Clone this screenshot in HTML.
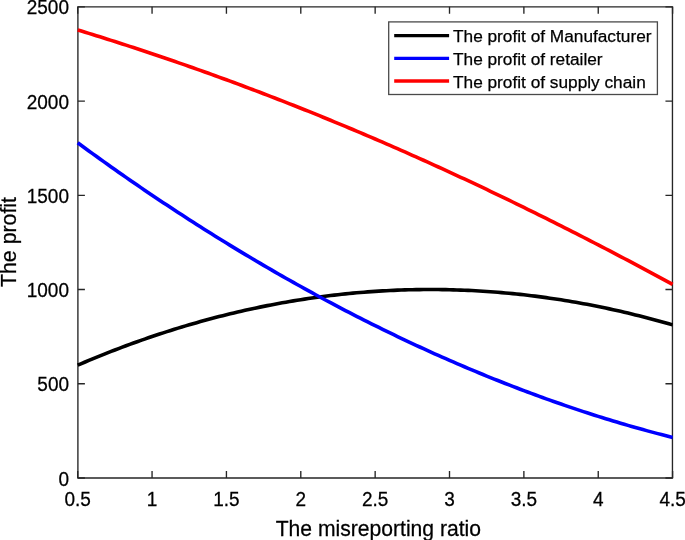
<!DOCTYPE html>
<html><head><meta charset="utf-8"><style>
html,body{margin:0;padding:0;background:#fff;}
svg{display:block;will-change:transform;}
text{font-family:"Liberation Sans",sans-serif;fill:#000;stroke:#000;stroke-width:0.25px;}
</style></head><body>
<svg width="685" height="540" viewBox="0 0 685 540">
<rect width="685" height="540" fill="#fff"/>

<path d="M77.9 6.17V478.68M672.45 6.17V478.68M77.23 6.85H673.12M77.23 478.0H673.12" stroke="#262626" stroke-width="1.35" fill="none"/>
<path d="M77.70 478.0V471.0M77.70 6.85V13.85M152.06 478.0V471.0M152.06 6.85V13.85M226.43 478.0V471.0M226.43 6.85V13.85M300.79 478.0V471.0M300.79 6.85V13.85M375.15 478.0V471.0M375.15 6.85V13.85M449.51 478.0V471.0M449.51 6.85V13.85M523.88 478.0V471.0M523.88 6.85V13.85M598.24 478.0V471.0M598.24 6.85V13.85M672.60 478.0V471.0M672.60 6.85V13.85M77.9 478.00H84.9M672.45 478.00H665.45M77.9 383.77H84.9M672.45 383.77H665.45M77.9 289.54H84.9M672.45 289.54H665.45M77.9 195.31H84.9M672.45 195.31H665.45M77.9 101.08H84.9M672.45 101.08H665.45M77.9 6.85H84.9M672.45 6.85H665.45" stroke="#262626" stroke-width="1.35" fill="none"/>
<polyline points="77.70,365.14 81.42,363.55 85.14,361.97 88.85,360.42 92.57,358.88 96.29,357.35 100.01,355.85 103.73,354.36 107.44,352.89 111.16,351.43 114.88,349.99 118.60,348.57 122.32,347.17 126.04,345.78 129.75,344.41 133.47,343.06 137.19,341.72 140.91,340.40 144.63,339.10 148.34,337.82 152.06,336.55 155.78,335.30 159.50,334.06 163.22,332.84 166.94,331.64 170.65,330.46 174.37,329.29 178.09,328.14 181.81,327.01 185.53,325.90 189.24,324.80 192.96,323.71 196.68,322.65 200.40,321.60 204.12,320.57 207.83,319.56 211.55,318.56 215.27,317.58 218.99,316.61 222.71,315.67 226.43,314.74 230.14,313.82 233.86,312.93 237.58,312.05 241.30,311.19 245.02,310.34 248.73,309.51 252.45,308.70 256.17,307.91 259.89,307.13 263.61,306.37 267.32,305.62 271.04,304.90 274.76,304.19 278.48,303.49 282.20,302.81 285.92,302.15 289.63,301.51 293.35,300.89 297.07,300.28 300.79,299.68 304.51,299.11 308.22,298.55 311.94,298.01 315.66,297.48 319.38,296.97 323.10,296.48 326.81,296.01 330.53,295.55 334.25,295.11 337.97,294.68 341.69,294.27 345.40,293.88 349.12,293.51 352.84,293.15 356.56,292.81 360.28,292.49 364.00,292.18 367.71,291.89 371.43,291.62 375.15,291.36 378.87,291.12 382.59,290.90 386.30,290.69 390.02,290.50 393.74,290.33 397.46,290.17 401.18,290.03 404.89,289.91 408.61,289.81 412.33,289.72 416.05,289.64 419.77,289.59 423.49,289.55 427.20,289.53 430.92,289.52 434.64,289.53 438.36,289.56 442.08,289.61 445.79,289.67 449.51,289.75 453.23,289.84 456.95,289.95 460.67,290.08 464.38,290.22 468.10,290.39 471.82,290.56 475.54,290.76 479.26,290.97 482.98,291.20 486.69,291.44 490.41,291.71 494.13,291.98 497.85,292.28 501.57,292.59 505.28,292.92 509.00,293.26 512.72,293.63 516.44,294.00 520.16,294.40 523.88,294.81 527.59,295.24 531.31,295.68 535.03,296.15 538.75,296.62 542.47,297.12 546.18,297.63 549.90,298.16 553.62,298.70 557.34,299.26 561.06,299.84 564.77,300.44 568.49,301.05 572.21,301.68 575.93,302.32 579.65,302.98 583.37,303.66 587.08,304.35 590.80,305.06 594.52,305.79 598.24,306.53 601.96,307.29 605.67,308.07 609.39,308.87 613.11,309.68 616.83,310.50 620.55,311.35 624.26,312.21 627.98,313.08 631.70,313.97 635.42,314.88 639.14,315.81 642.86,316.75 646.57,317.71 650.29,318.69 654.01,319.68 657.73,320.69 661.45,321.71 665.16,322.76 668.88,323.81 672.60,324.89" fill="none" stroke="#000" stroke-width="3.6" stroke-linejoin="round"/>
<polyline points="77.70,142.80 81.42,145.52 85.14,148.24 88.85,150.94 92.57,153.64 96.29,156.32 100.01,158.99 103.73,161.65 107.44,164.29 111.16,166.93 114.88,169.55 118.60,172.16 122.32,174.77 126.04,177.36 129.75,179.94 133.47,182.50 137.19,185.06 140.91,187.61 144.63,190.14 148.34,192.66 152.06,195.17 155.78,197.67 159.50,200.16 163.22,202.64 166.94,205.11 170.65,207.56 174.37,210.01 178.09,212.44 181.81,214.86 185.53,217.27 189.24,219.67 192.96,222.06 196.68,224.44 200.40,226.81 204.12,229.16 207.83,231.51 211.55,233.84 215.27,236.16 218.99,238.48 222.71,240.78 226.43,243.07 230.14,245.34 233.86,247.61 237.58,249.87 241.30,252.11 245.02,254.35 248.73,256.57 252.45,258.78 256.17,260.98 259.89,263.17 263.61,265.35 267.32,267.52 271.04,269.68 274.76,271.83 278.48,273.96 282.20,276.09 285.92,278.20 289.63,280.30 293.35,282.39 297.07,284.47 300.79,286.54 304.51,288.60 308.22,290.65 311.94,292.69 315.66,294.71 319.38,296.73 323.10,298.73 326.81,300.73 330.53,302.71 334.25,304.68 337.97,306.64 341.69,308.59 345.40,310.53 349.12,312.46 352.84,314.37 356.56,316.28 360.28,318.17 364.00,320.06 367.71,321.93 371.43,323.79 375.15,325.64 378.87,327.48 382.59,329.31 386.30,331.13 390.02,332.94 393.74,334.73 397.46,336.52 401.18,338.29 404.89,340.06 408.61,341.81 412.33,343.55 416.05,345.28 419.77,347.00 423.49,348.71 427.20,350.40 430.92,352.09 434.64,353.77 438.36,355.43 442.08,357.08 445.79,358.72 449.51,360.35 453.23,361.97 456.95,363.58 460.67,365.18 464.38,366.77 468.10,368.34 471.82,369.91 475.54,371.46 479.26,373.00 482.98,374.53 486.69,376.05 490.41,377.56 494.13,379.06 497.85,380.54 501.57,382.02 505.28,383.48 509.00,384.93 512.72,386.37 516.44,387.80 520.16,389.22 523.88,390.63 527.59,392.02 531.31,393.41 535.03,394.78 538.75,396.14 542.47,397.49 546.18,398.83 549.90,400.16 553.62,401.48 557.34,402.78 561.06,404.07 564.77,405.35 568.49,406.63 572.21,407.88 575.93,409.13 579.65,410.37 583.37,411.59 587.08,412.80 590.80,414.00 594.52,415.19 598.24,416.37 601.96,417.54 605.67,418.69 609.39,419.84 613.11,420.97 616.83,422.09 620.55,423.19 624.26,424.29 627.98,425.37 631.70,426.45 635.42,427.51 639.14,428.56 642.86,429.59 646.57,430.62 650.29,431.63 654.01,432.63 657.73,433.62 661.45,434.60 665.16,435.56 668.88,436.52 672.60,437.46" fill="none" stroke="#0000ff" stroke-width="3.6" stroke-linejoin="round"/>
<polyline points="77.70,29.94 81.42,31.07 85.14,32.21 88.85,33.36 92.57,34.51 96.29,35.67 100.01,36.83 103.73,38.00 107.44,39.18 111.16,40.36 114.88,41.55 118.60,42.74 122.32,43.93 126.04,45.14 129.75,46.35 133.47,47.56 137.19,48.78 140.91,50.01 144.63,51.24 148.34,52.48 152.06,53.72 155.78,54.97 159.50,56.22 163.22,57.48 166.94,58.75 170.65,60.02 174.37,61.30 178.09,62.58 181.81,63.87 185.53,65.17 189.24,66.47 192.96,67.78 196.68,69.09 200.40,70.41 204.12,71.73 207.83,73.06 211.55,74.40 215.27,75.74 218.99,77.09 222.71,78.44 226.43,79.80 230.14,81.17 233.86,82.54 237.58,83.92 241.30,85.30 245.02,86.69 248.73,88.08 252.45,89.48 256.17,90.89 259.89,92.30 263.61,93.72 267.32,95.15 271.04,96.58 274.76,98.01 278.48,99.45 282.20,100.90 285.92,102.35 289.63,103.81 293.35,105.28 297.07,106.75 300.79,108.23 304.51,109.71 308.22,111.20 311.94,112.70 315.66,114.20 319.38,115.70 323.10,117.22 326.81,118.73 330.53,120.26 334.25,121.79 337.97,123.32 341.69,124.87 345.40,126.41 349.12,127.97 352.84,129.53 356.56,131.09 360.28,132.66 364.00,134.24 367.71,135.82 371.43,137.41 375.15,139.01 378.87,140.61 382.59,142.21 386.30,143.82 390.02,145.44 393.74,147.06 397.46,148.69 401.18,150.33 404.89,151.97 408.61,153.61 412.33,155.27 416.05,156.92 419.77,158.59 423.49,160.26 427.20,161.93 430.92,163.61 434.64,165.30 438.36,166.99 442.08,168.69 445.79,170.39 449.51,172.10 453.23,173.81 456.95,175.53 460.67,177.26 464.38,178.99 468.10,180.73 471.82,182.47 475.54,184.22 479.26,185.97 482.98,187.73 486.69,189.49 490.41,191.26 494.13,193.04 497.85,194.82 501.57,196.61 505.28,198.40 509.00,200.20 512.72,202.00 516.44,203.81 520.16,205.62 523.88,207.44 527.59,209.26 531.31,211.09 535.03,212.93 538.75,214.77 542.47,216.61 546.18,218.46 549.90,220.32 553.62,222.18 557.34,224.04 561.06,225.91 564.77,227.79 568.49,229.67 572.21,231.56 575.93,233.45 579.65,235.35 583.37,237.25 587.08,239.16 590.80,241.07 594.52,242.98 598.24,244.91 601.96,246.83 605.67,248.76 609.39,250.70 613.11,252.64 616.83,254.59 620.55,256.54 624.26,258.50 627.98,260.46 631.70,262.42 635.42,264.39 639.14,266.37 642.86,268.35 646.57,270.33 650.29,272.32 654.01,274.31 657.73,276.31 661.45,278.31 665.16,280.32 668.88,282.33 672.60,284.35" fill="none" stroke="#ff0000" stroke-width="3.6" stroke-linejoin="round"/>
<text transform="translate(69,485.60) scale(1,1.09)" font-size="19" text-anchor="end">0</text>
<text transform="translate(69,391.37) scale(1,1.09)" font-size="19" text-anchor="end">500</text>
<text transform="translate(69,297.14) scale(1,1.09)" font-size="19" text-anchor="end">1000</text>
<text transform="translate(69,202.91) scale(1,1.09)" font-size="19" text-anchor="end">1500</text>
<text transform="translate(69,108.68) scale(1,1.09)" font-size="19" text-anchor="end">2000</text>
<text transform="translate(69,14.45) scale(1,1.09)" font-size="19" text-anchor="end">2500</text>
<text transform="translate(77.70,505.8) scale(1,1.09)" font-size="19" text-anchor="middle">0.5</text>
<text transform="translate(152.06,505.8) scale(1,1.09)" font-size="19" text-anchor="middle">1</text>
<text transform="translate(226.43,505.8) scale(1,1.09)" font-size="19" text-anchor="middle">1.5</text>
<text transform="translate(300.79,505.8) scale(1,1.09)" font-size="19" text-anchor="middle">2</text>
<text transform="translate(375.15,505.8) scale(1,1.09)" font-size="19" text-anchor="middle">2.5</text>
<text transform="translate(449.51,505.8) scale(1,1.09)" font-size="19" text-anchor="middle">3</text>
<text transform="translate(523.88,505.8) scale(1,1.09)" font-size="19" text-anchor="middle">3.5</text>
<text transform="translate(598.24,505.8) scale(1,1.09)" font-size="19" text-anchor="middle">4</text>
<text transform="translate(672.60,505.8) scale(1,1.09)" font-size="19" text-anchor="middle">4.5</text>
<text transform="translate(275.7,535.6) scale(1.006,1.03)" font-size="21">The misreporting ratio</text>
<text transform="translate(16.1,287) rotate(-90) scale(1.015,1.03)" font-size="21">The profit</text>
<rect x="388.7" y="21.9" width="268.7" height="72.6" fill="#fff" stroke="#4a4a4a" stroke-width="1.3"/>
<line x1="394.2" y1="35.60" x2="449.1" y2="35.60" stroke="#000" stroke-width="3.3"/>
<text x="453.0" y="42.10" font-size="17.25">The profit of Manufacturer</text>
<line x1="394.2" y1="58.30" x2="449.1" y2="58.30" stroke="#0000ff" stroke-width="3.3"/>
<text x="453.0" y="64.80" font-size="17.25">The profit of retailer</text>
<line x1="394.2" y1="81.00" x2="449.1" y2="81.00" stroke="#ff0000" stroke-width="3.3"/>
<text x="453.0" y="87.50" font-size="17.25">The profit of supply chain</text>
</svg></body></html>
